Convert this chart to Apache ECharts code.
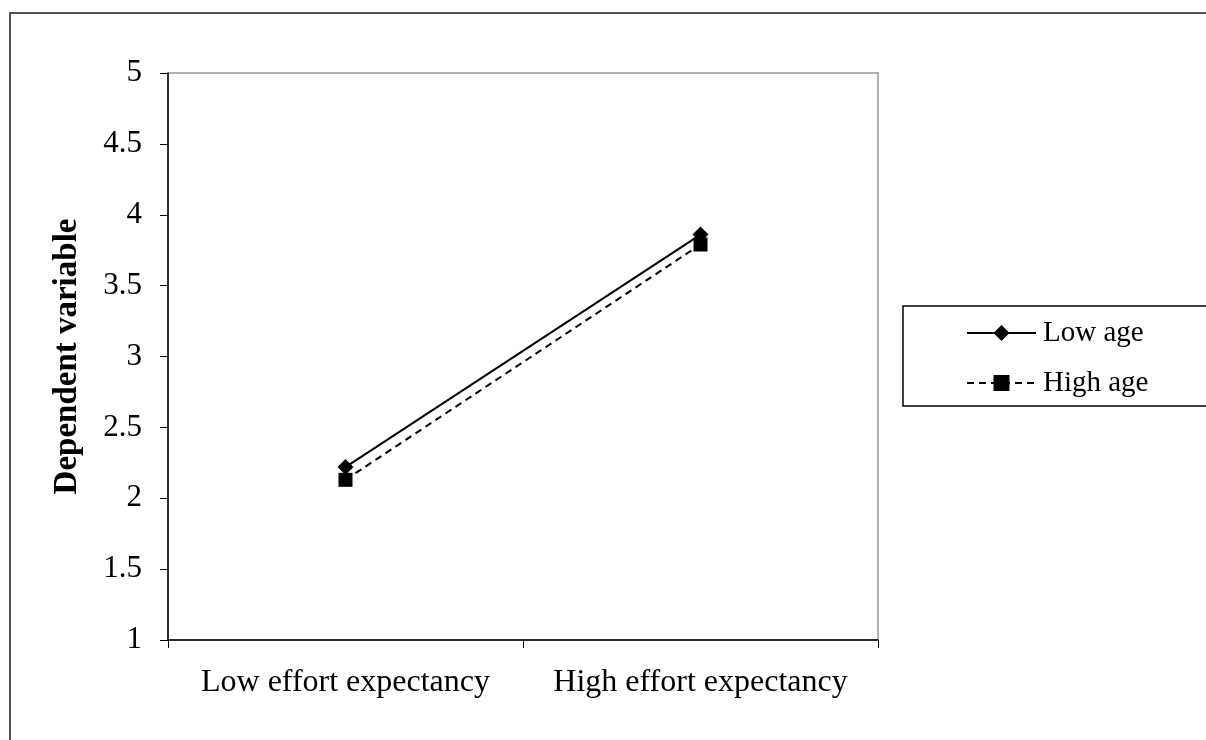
<!DOCTYPE html>
<html><head><meta charset="utf-8">
<script src="https://cdn.jsdelivr.net/npm/echarts@6/dist/echarts.min.js"></script>
<style>html,body{margin:0;padding:0;background:#fff}#c{width:1206px;height:740px}</style>
</head><body><div id="c"></div>
<script>
const categories = ['Low effort expectancy', 'High effort expectancy'];
const lowAge = [2.22, 3.86];
const highAge = [2.13, 3.79];
const seriesNames = ['Low age', 'High age'];
const yTicks = { min: 1, max: 5, interval: 0.5 };
const yTitle = 'Dependent variable';

const FONT = '"Liberation Serif", "Times New Roman", serif';
const chart = echarts.init(document.getElementById('c'));
chart.setOption({
  animation: false,
  backgroundColor: '#fff',
  graphic: [
    { type: 'rect', shape: { x: 10, y: 13, width: 1220, height: 760 }, style: { fill: 'none', stroke: '#555', lineWidth: 2 }, silent: true },
    { type: 'rect', shape: { x: 903, y: 306, width: 320, height: 100 }, style: { fill: '#fff', stroke: '#000', lineWidth: 1.5 }, z: 0, silent: true }
  ],
  grid: { left: 168, right: 328, top: 73, bottom: 100, show: true, borderColor: '#999', borderWidth: 1.5, backgroundColor: 'transparent' },
  legend: {
    orient: 'vertical', left: 961, top: 312, z: 10,
    itemWidth: 69, itemHeight: 20, itemGap: 18,
    lineStyle: { width: 2 },
    textStyle: { fontFamily: FONT, fontSize: 29, color: '#000', lineHeight: 32, padding: [0,0,0,2] },
    data: seriesNames
  },
  xAxis: {
    type: 'category', data: categories, boundaryGap: true,
    axisLine: { lineStyle: { color: '#000', width: 1.5 } },
    axisTick: { show: true, interval: 0, length: 8, lineStyle: { color: '#000' } },
    axisLabel: { interval: 0, fontFamily: FONT, fontSize: 32, color: '#000', margin: 27 }
  },
  yAxis: {
    type: 'value', min: yTicks.min, max: yTicks.max, interval: yTicks.interval,
    name: yTitle, nameLocation: 'middle', nameGap: 84, nameRotate: 90,
    nameTextStyle: { fontFamily: FONT, fontSize: 33, fontWeight: 'bold', color: '#000' },
    splitLine: { show: false },
    axisLine: { show: true, lineStyle: { color: '#000', width: 1.5 } },
    axisTick: { show: true, length: 8, lineStyle: { color: '#000' } },
    axisLabel: { fontFamily: FONT, fontSize: 31, color: '#000', margin: 26 }
  },
  series: [
    { name: seriesNames[0], type: 'line', data: lowAge, symbol: 'diamond', symbolSize: 16,
      lineStyle: { color: '#000', width: 2, type: 'solid' }, itemStyle: { color: '#000' } },
    { name: seriesNames[1], type: 'line', data: highAge, symbol: 'rect', symbolSize: 14,
      lineStyle: { color: '#000', width: 2, type: [7, 5] }, itemStyle: { color: '#000' } }
  ]
});
</script></body></html>
